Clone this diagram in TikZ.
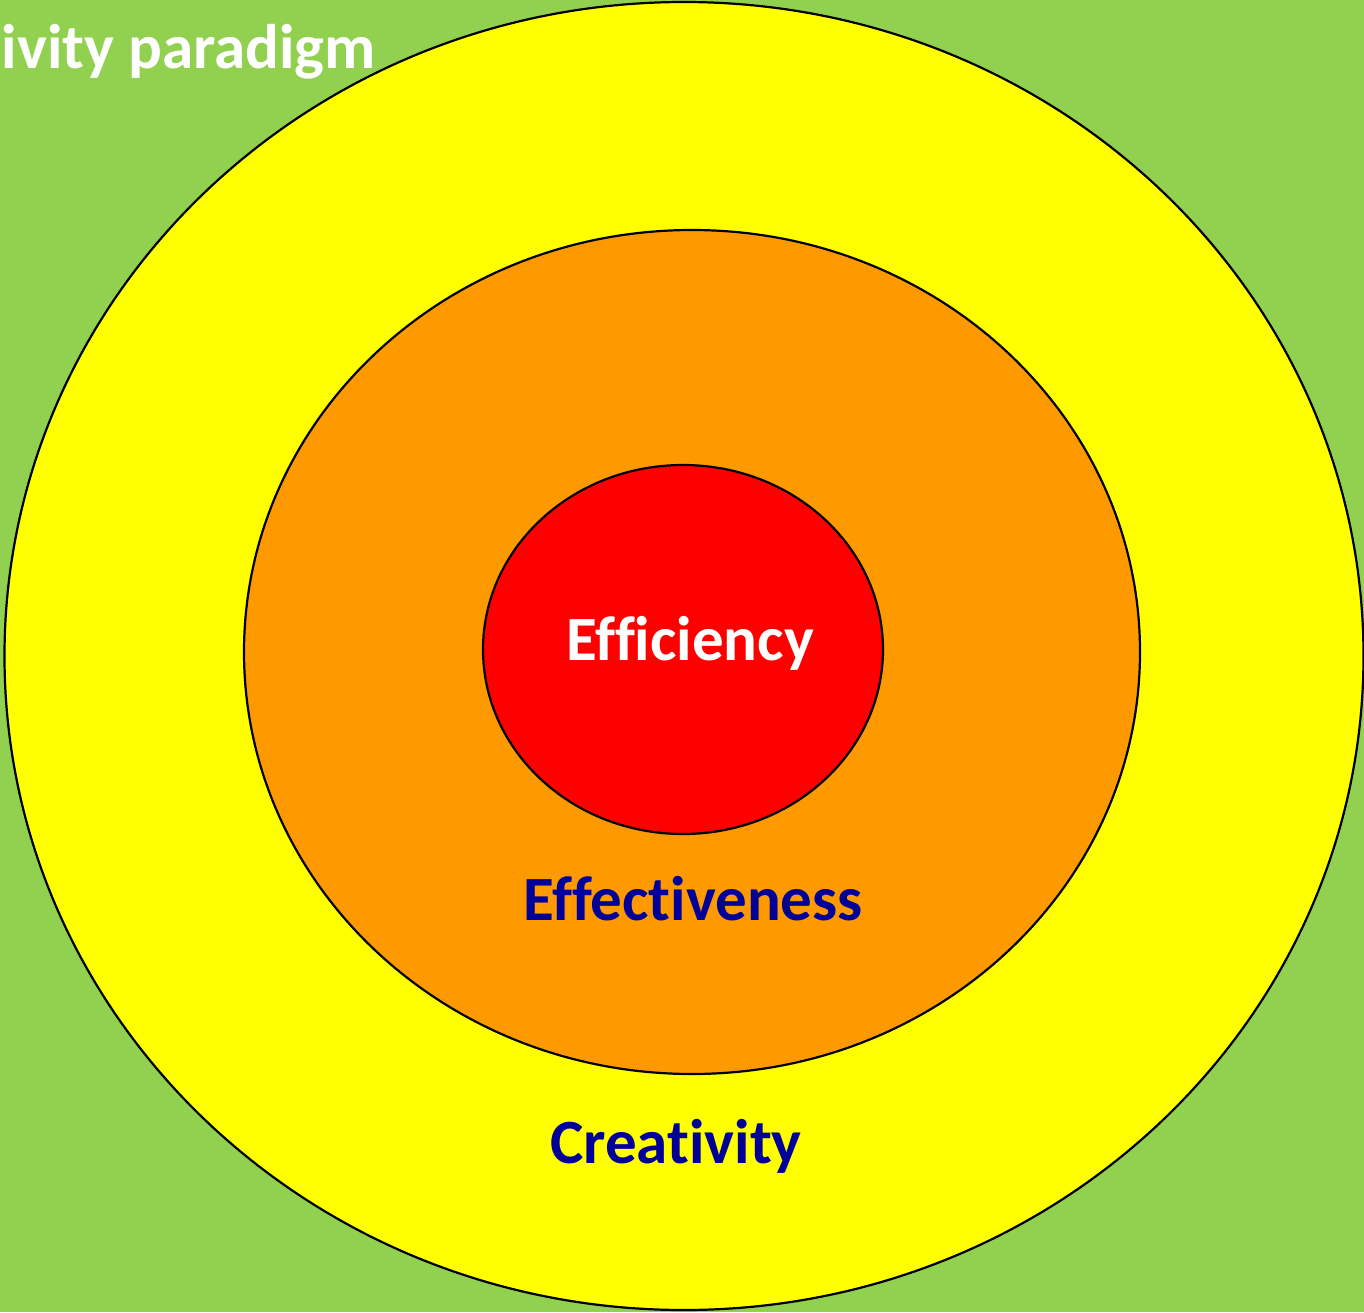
\documentclass[tikz,border=0pt]{standalone}
\usepackage{fontspec}
\setmainfont[RawFeature=-liga]{Carlito}
\definecolor{bggreen}{HTML}{92D050}
\definecolor{ringyellow}{HTML}{FFFF00}
\definecolor{ringorange}{HTML}{FF9900}
\definecolor{ringred}{HTML}{FF0000}
\definecolor{labelblue}{HTML}{000099}
\begin{document}
\begin{tikzpicture}[x=1pt,y=-1pt,
  ring/.style={draw=black,line width=2.2pt},
  lbl/.style={font=\fontsize{63}{63}\selectfont\bfseries,inner sep=0pt}]
\useasboundingbox (0,0) rectangle (1364,1312);
\fill[bggreen] (0,0) rectangle (1364,1312);
\begin{scope}
\clip (0,0) rectangle (1364,1312);
\draw[ring,fill=ringyellow] (684,656) ellipse [x radius=679.5,y radius=654];
\end{scope}
\draw[ring,fill=ringorange] (692,652) ellipse [x radius=448,y radius=422];
\draw[ring,fill=ringred] (683,649.5) ellipse [x radius=200,y radius=184.5];
\node[lbl,text=white] (eff) at (690,643) {Efficiency};
\node[lbl,text=labelblue] (effc) at (693,899) {Effectiveness};
\node[lbl,text=labelblue] (cre) at (676,1146) {Creativity};
\node[font=\fontsize{63}{63}\selectfont\bfseries,text=white,inner sep=0pt,anchor=base east] (par) at (376,68) {ivity paradigm};
\end{tikzpicture}
\end{document}
